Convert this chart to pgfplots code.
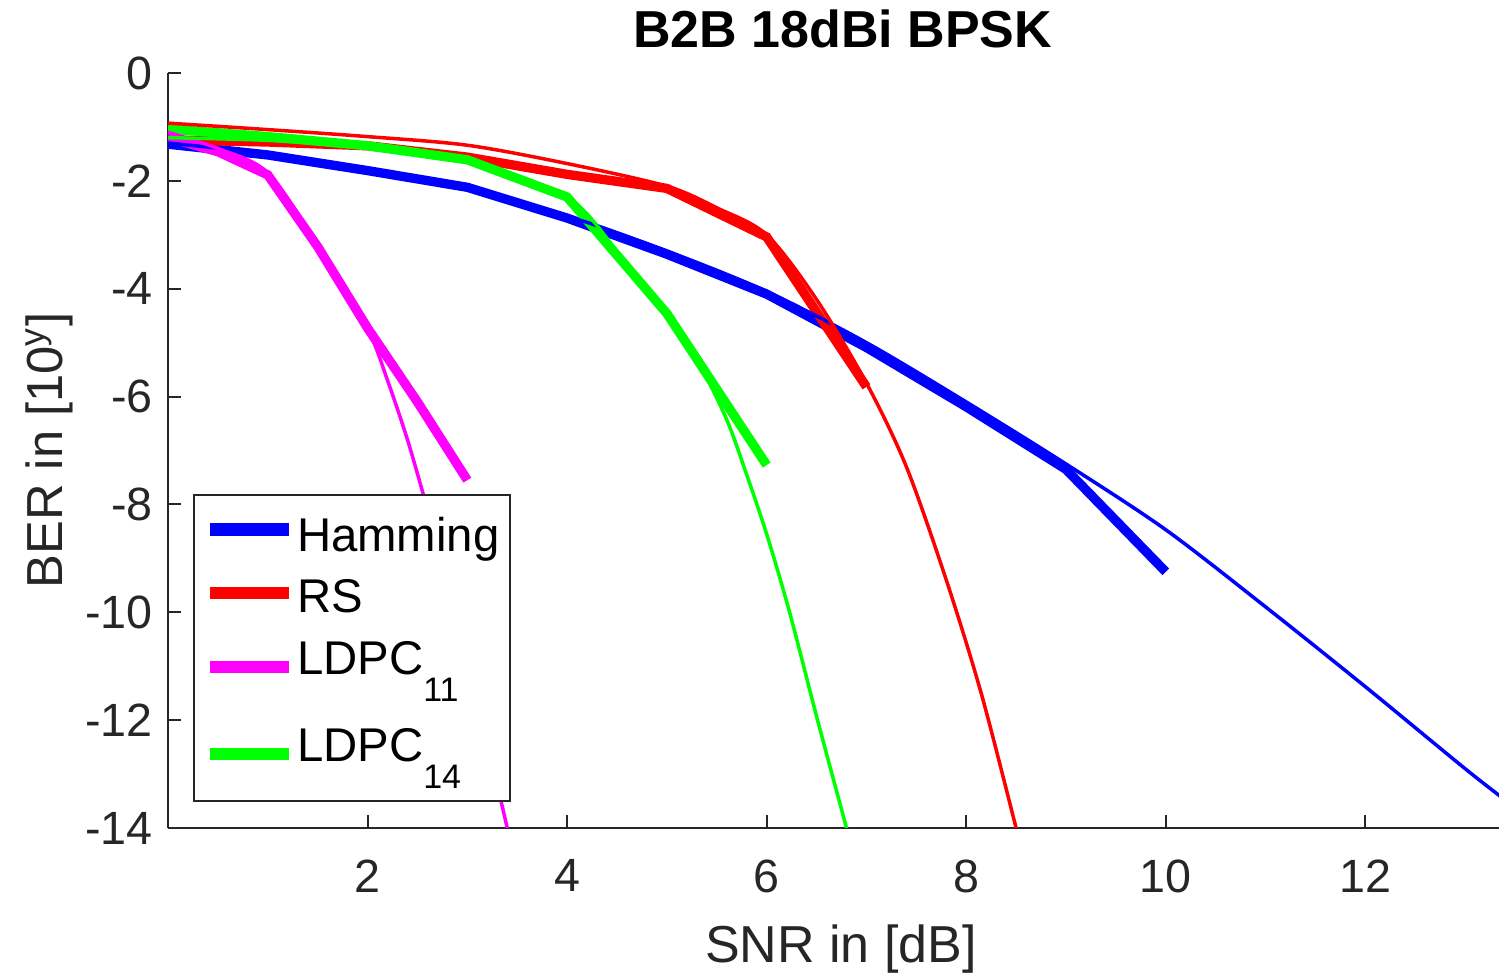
\documentclass[border=0pt]{standalone}
\usepackage{fontspec}
\setmainfont{Liberation Sans}
\usepackage{pgfplots}
\pgfplotsset{compat=1.18}
\definecolor{axgray}{RGB}{38,38,38}
\definecolor{mblue}{RGB}{0,0,255}
\definecolor{mred}{RGB}{255,0,0}
\definecolor{mmag}{RGB}{255,0,255}
\definecolor{mgreen}{RGB}{0,255,0}
\newcommand{\sub}[1]{\raisebox{-8.1pt}{\fontsize{10.2}{12}\selectfont #1}}
\begin{document}
\begin{tikzpicture}
\begin{axis}[
  scale only axis,
  width=399.3pt, height=226.5pt,
  xmin=0, xmax=13.34, ymin=-14, ymax=0,
  axis x line*=bottom, axis y line*=left,
  axis line style={axgray, line width=0.6pt},
  xtick={2,4,...,12}, ytick={-14,-12,...,0},
  tick align=inside,
  major tick length=4pt,
  tick style={axgray, line width=0.6pt},
  /pgf/number format/assume math mode=true,
  tick label style={font=\fontsize{14}{16}\selectfont, text=axgray},
  xticklabel style={yshift=-6.0pt},
  yticklabel style={xshift=-1pt},
  every axis title shift=0pt,
  title={B2B 18dBi BPSK},
  title style={at={(axis description cs:0.5068,1.0331)}, anchor=base, font=\fontsize{15.6}{18}\selectfont\bfseries},
  xlabel={SNR in [dB]},
  xlabel style={at={(axis description cs:0.5056,-0.1775)}, anchor=base, font=\fontsize{15.6}{18}\selectfont, text=axgray},
  ylabel={BER in [10\textsuperscript{y}]},
  ylabel style={at={(axis description cs:-0.0796,0.5)}, anchor=base, font=\fontsize{15.2}{18}\selectfont, text=axgray},
  legend style={at={(0.0188,0.0344)}, anchor=south west, draw=axgray, line width=0.6pt, fill=white,
    font=\fontsize{14.2}{17}\selectfont, inner xsep=2.4pt, inner ysep=0.7pt, row sep=0pt, column sep=0pt,
    nodes={inner ysep=0pt, inner xsep=0.6pt}},
  legend cell align=left,
  legend image code/.code={\path (0pt,0pt); \draw[#1,line width=3.8pt] (0.9pt,0pt) -- (24.6pt,0pt);},
  clip=true,
]
\coordinate (sw) at (rel axis cs:0,0);
\coordinate (ne) at (rel axis cs:1,1);
% measured (thick)
\addplot[mblue, line width=2.8pt] coordinates {
(0,-1.32) (1,-1.52) (2,-1.81) (3,-2.12) (4,-2.69) (5,-3.36) (6,-4.10) (7,-5.09) (8,-6.19) (9,-7.35) (10,-9.25)};
\addlegendentry[text height=16.1pt, text depth=3.1pt]{Hamming}
\addplot[mred, line width=2.8pt] coordinates {
(0,-1.24) (1,-1.28) (2,-1.35) (3,-1.56) (4,-1.88) (5,-2.14) (6,-3.04) (7,-5.82)};
\addlegendentry[text height=15.2pt, text depth=3.8pt]{RS}
\addplot[mmag, line width=2.8pt] coordinates {
(0,-1.20) (0.5,-1.46) (1,-1.89) (1.5,-3.22) (2,-4.73) (2.5,-6.10) (3,-7.55)};
\addlegendentry[text height=14.8pt, text depth=10.6pt]{LDPC\sub{11}}
\addplot[mgreen, line width=2.8pt] coordinates {
(0,-1.04) (1,-1.18) (2,-1.35) (3,-1.61) (4,-2.30) (5,-4.46) (6,-7.27)};
\addlegendentry[text height=15.5pt, text depth=11.3pt]{LDPC\sub{14}}
% theory (thin)
\addplot[mblue, line width=1.05pt, smooth, forget plot] coordinates {
(0,-1.30) (1,-1.50) (2,-1.80) (3,-2.15) (4,-2.65) (5,-3.30) (6,-4.05) (7,-5.00) (8,-6.10) (9,-7.25) (10,-8.47) (11,-9.90) (12,-11.38) (13,-12.90) (13.45,-13.55)};
\addplot[mred, line width=1.05pt, smooth, forget plot] coordinates {
(0,-0.93) (1,-1.05) (2,-1.18) (3,-1.34) (4,-1.68) (5,-2.10) (5.5,-2.50) (6,-3.00) (6.5,-4.20) (7,-5.75) (7.4,-7.30) (7.8,-9.40) (8.15,-11.50) (8.5,-14.00) (8.55,-14.40)};
\addplot[mmag, line width=1.05pt, smooth, forget plot] coordinates {
(0,-1.10) (0.5,-1.40) (1,-1.85) (1.5,-3.20) (2,-4.75) (2.2,-5.70) (2.4,-6.80) (2.58,-7.95) (2.8,-9.35) (3.0,-10.80) (3.2,-12.40) (3.4,-14.00) (3.45,-14.40)};
\addplot[mgreen, line width=1.05pt, smooth, forget plot] coordinates {
(0,-1.20) (1,-1.25) (2,-1.38) (3,-1.62) (4,-2.30) (4.5,-3.30) (5,-4.45) (5.3,-5.30) (5.6,-6.43) (5.8,-7.45) (6.0,-8.55) (6.23,-10.00) (6.51,-12.00) (6.8,-14.00) (6.85,-14.40)};
\end{axis}
\pgfresetboundingbox
\path[use as bounding box] ([shift={(-50.4pt,-44.4pt)}]sw) rectangle ([shift={(0pt,21.9pt)}]ne);
\end{tikzpicture}
\end{document}
